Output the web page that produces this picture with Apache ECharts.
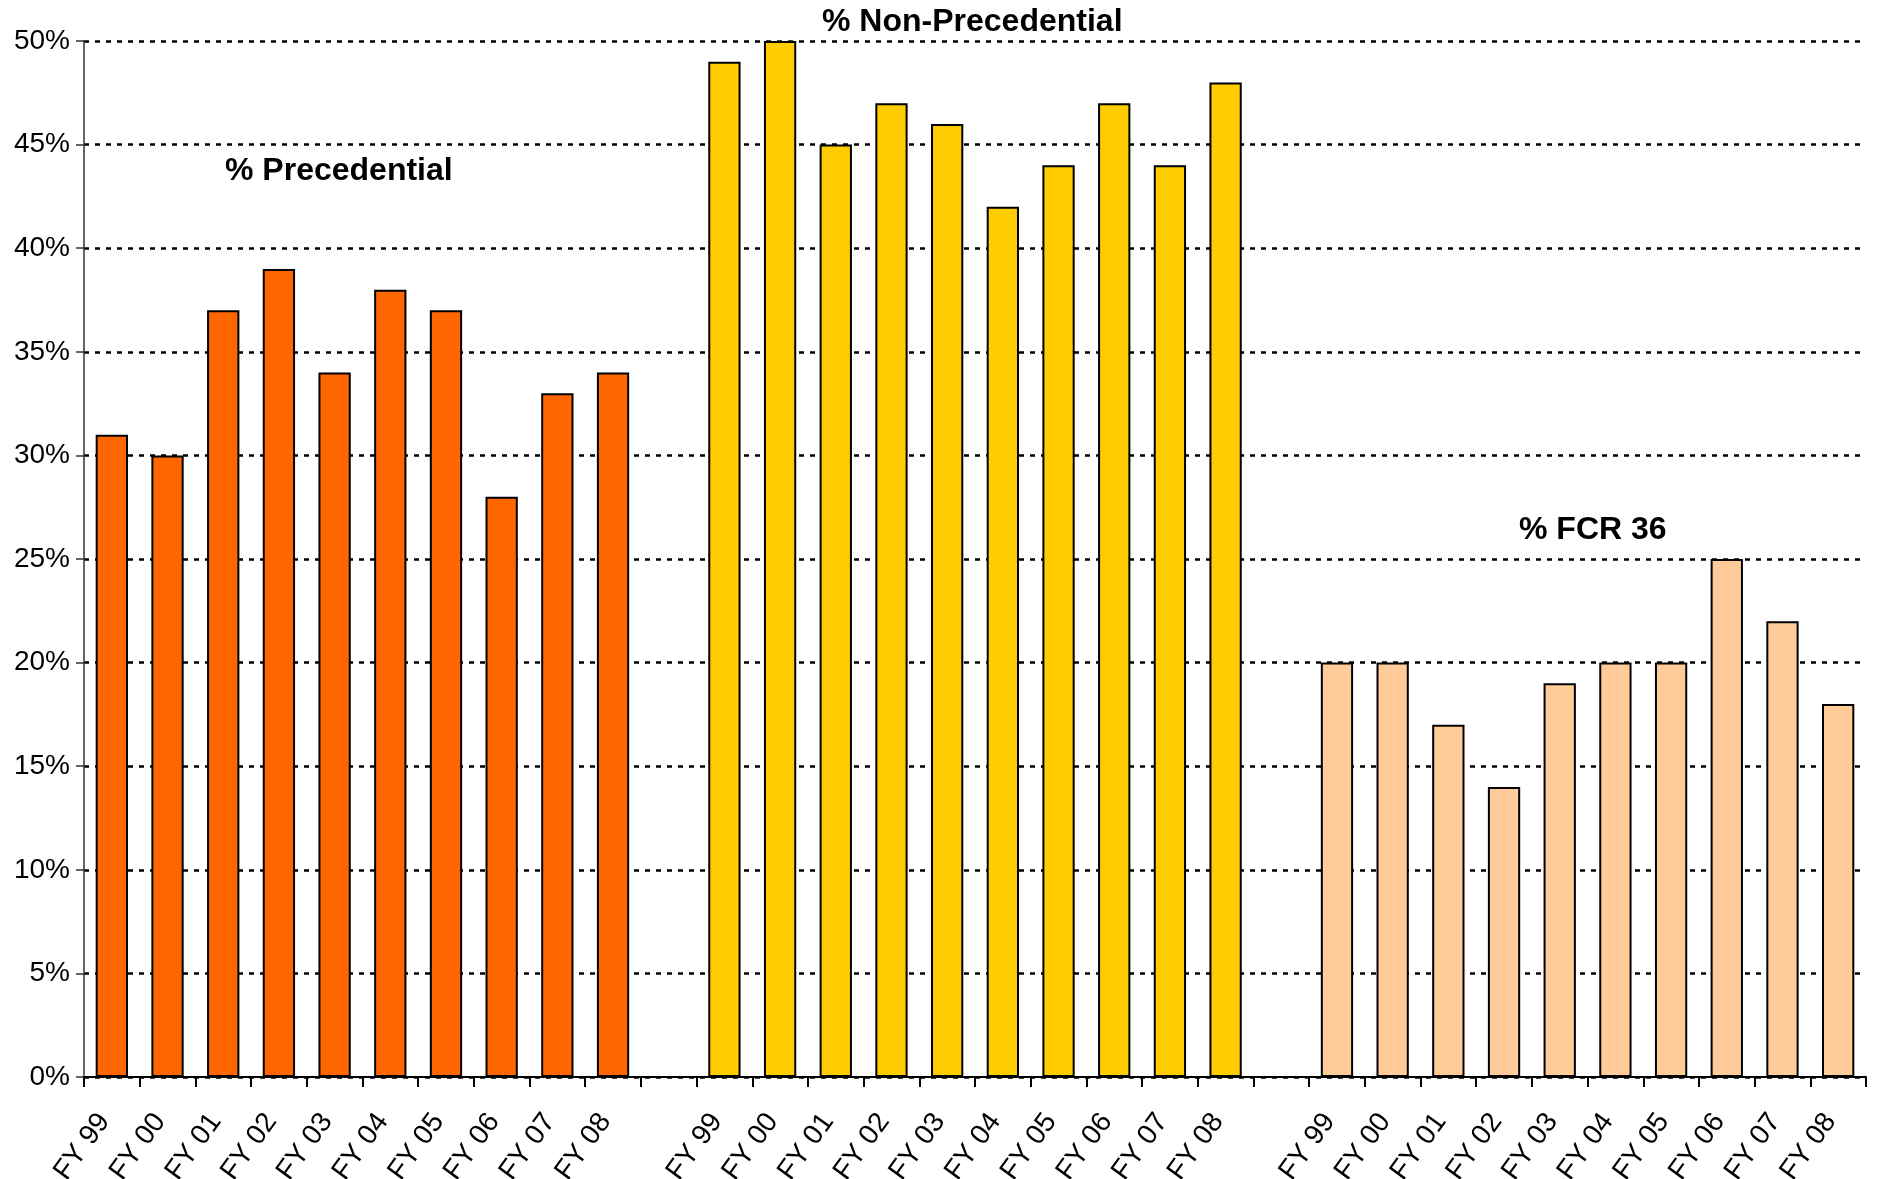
<!DOCTYPE html>
<html>
<head>
<meta charset="utf-8">
<script src="https://cdn.jsdelivr.net/npm/echarts@6/dist/echarts.min.js"></script>
<style>
html,body{margin:0;padding:0;background:#fff;}
#chart{width:1879px;height:1179px;}
</style>
</head>
<body>
<div id="chart"></div>
<script>
var years = ['FY 99','FY 00','FY 01','FY 02','FY 03','FY 04','FY 05','FY 06','FY 07','FY 08'];
var precedential = [31, 30, 37, 39, 34, 38, 37, 28, 33, 34];
var nonPrecedential = [49, 50, 45, 47, 46, 42, 44, 47, 44, 48];
var fcr36 = [20, 20, 17, 14, 19, 20, 20, 25, 22, 18];
var yTicks = [0, 5, 10, 15, 20, 25, 30, 35, 40, 45, 50];

var categories = years.concat([''], years, [''], years);
var n = years.length;
function pad(arr, offset) {
  var out = [];
  for (var i = 0; i < categories.length; i++) {
    var j = i - offset;
    out.push(j >= 0 && j < arr.length ? arr[j] : null);
  }
  return out;
}

var chart = echarts.init(document.getElementById('chart'));
var font = 'Liberation Sans, Arial, sans-serif';
function barSeries(name, data, color) {
  return {
    name: name, type: 'bar', stack: 'all', data: data,
    barCategoryGap: '42%',
    itemStyle: { color: color, borderColor: '#000', borderWidth: 2 }
  };
}
chart.setOption({
  animation: false,
  backgroundColor: '#fff',
  grid: { left: 84, right: 13, top: 41, bottom: 102, containLabel: false, outerBoundsMode: 'none' },
  xAxis: {
    type: 'category', data: categories,
    axisLine: { lineStyle: { color: '#000', width: 2 } },
    axisTick: { show: true, interval: 0, length: 10, lineStyle: { color: '#000', width: 2 } },
    axisLabel: { interval: 0, rotate: 54, margin: 29, padding: [0, 13, 0, 0], fontSize: 28, color: '#000', fontFamily: font }
  },
  yAxis: {
    type: 'value', min: yTicks[0], max: yTicks[yTicks.length - 1], interval: 5,
    axisLine: { show: true, lineStyle: { color: '#333', width: 1.5 } },
    axisTick: { show: true, length: 8, lineStyle: { color: '#333', width: 1.5 } },
    axisLabel: { formatter: '{value}%', fontSize: 28, color: '#000', fontFamily: font, margin: 14 },
    splitLine: { show: true, lineStyle: { color: '#000', width: 2.5, type: [5, 6] } }
  },
  series: [
    barSeries('% Precedential', pad(precedential, 0), '#FF6600'),
    barSeries('% Non-Precedential', pad(nonPrecedential, n + 1), '#FFCC00'),
    barSeries('% FCR 36', pad(fcr36, 2 * n + 2), '#FFCC99')
  ],
  graphic: [
    { type: 'text', left: 225, top: 155, style: { text: '% Precedential', font: 'bold 32px ' + font, fill: '#000' } },
    { type: 'text', left: 822, top: 6, style: { text: '% Non-Precedential', font: 'bold 32px ' + font, fill: '#000' } },
    { type: 'text', left: 1519, top: 514, style: { text: '% FCR 36', font: 'bold 32px ' + font, fill: '#000' } }
  ]
});
</script>
</body>
</html>
